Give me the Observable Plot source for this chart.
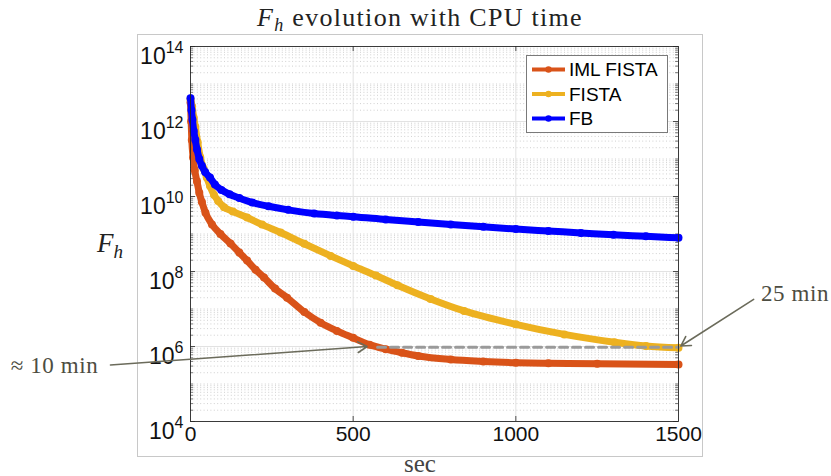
<!DOCTYPE html>
<html><head><meta charset="utf-8">
<script src="https://cdn.jsdelivr.net/npm/d3@7"></script>
<script src="https://cdn.jsdelivr.net/npm/@observablehq/plot@0.6"></script>
<style>body{margin:0;background:#fff}</style>
</head><body><div id="chart"></div>
<script>
const series = ["IML FISTA", "FISTA", "FB"];
const colors = ["#D95319", "#EDB120", "#0000FF"];

const imlT = [0,2,4,8,13,20,27,35,46,66,92,123,150,174,200,226,260,297,350,400,450,500,550,600,650,700,800,900,1000,1100,1250,1500];
const imlF = [3.2e12,1.0e12,3.2e11,1.1e11,5.0e10,2.5e10,1.26e10,7.1e9,3.7e9,1.8e9,1.0e9,5.6e8,3.2e8,1.95e8,1.12e8,6.9e7,3.5e7,2.0e7,8.3e6,4.3e6,2.6e6,1.7e6,1.12e6,8.5e5,6.8e5,5.6e5,4.5e5,4.0e5,3.7e5,3.55e5,3.47e5,3.3e5];

const fistaT = [0,5,10,15,22,30,40,50,60,72,85,103,130,174,220,277,350,431,500,570,636,738,841,1000,1149,1303,1400,1500];
const fistaF = [4.0e12,2.5e12,1.26e12,7.1e11,2.8e11,1.12e11,5.6e10,3.2e10,1.9e10,1.12e10,7.6e9,5.2e9,4.0e9,2.75e9,1.78e9,1.1e9,5.5e8,2.6e8,1.41e8,7.8e7,4.3e7,1.86e7,8.9e6,3.9e6,2.1e6,1.3e6,1.03e6,9.2e5];

const fbT = [0,3,6,10,15,20,27,35,45,60,75,95,120,150,190,240,300,380,450,500,600,700,800,900,1000,1100,1200,1300,1400,1500];
const fbF = [4.2e12,2.0e12,1.12e12,5.6e11,3.2e11,1.8e11,1.0e11,6.6e10,4.5e10,3.2e10,2.1e10,1.5e10,1.15e10,9.1e9,6.9e9,5.5e9,4.4e9,3.5e9,3.1e9,2.9e9,2.45e9,2.1e9,1.8e9,1.55e9,1.35e9,1.2e9,1.07e9,9.5e8,8.7e8,7.9e8];

const dashT = [575, 1500];
const dashF = [9.5e5, 9.5e5];

const yTicks = [1e4, 1e6, 1e8, 1e10, 1e12, 1e14];
const xTicks = [0, 500, 1000, 1500];

const annText = ["≈ 10 min", "25 min"];
const annTextX = [-418, 1858];
const annTextF = [3.1e5, 2.6e7];
const arrowX1 = [-246, 1731];
const arrowF1 = [3.2e5, 1.8e7];
const arrowX2 = [543, 1507];
const arrowF2 = [1.0e6, 1.03e6];

// minor log tick positions
const minorY = [];
for (let k = 4; k < 14; k++) for (let m = 1; m <= 9; m++) {
  const v = m * Math.pow(10, k);
  if (!yTicks.includes(v)) minorY.push(v);
}

const seriesData = [[imlT, imlF], [fistaT, fistaF], [fbT, fbF]].map(([T, F], i) =>
  T.map((t, j) => ({s: series[i], t, f: F[j]})));
const dashData = dashT.map((t, i) => ({t, f: dashF[i]}));
const annData = annText.map((txt, i) => ({txt, x: annTextX[i], f: annTextF[i]}));
const arrowData = arrowX1.map((x1, i) => ({x1, y1: arrowF1[i], x2: arrowX2[i], y2: arrowF2[i]}));

const FW = 488, FH = 375;
const axisColor = "#262626";

const plot = Plot.plot({
  width: 831, height: 476,
  marginLeft: 190, marginRight: 153, marginTop: 46, marginBottom: 55,
  style: {fontFamily: "Liberation Sans, Arial, sans-serif", color: axisColor, background: "white"},
  x: {domain: [0, 1500]},
  y: {type: "log", domain: [1e4, 1e14]},
  marks: [
    Plot.ruleY(minorY, {stroke: "#c4c4c4", strokeWidth: 0.8, strokeDasharray: "1,2.4"}),
    Plot.ruleY(yTicks.slice(1, -1), {stroke: "#e2e2e2", strokeWidth: 1}),
    Plot.ruleX([500, 1000], {stroke: "#e2e2e2", strokeWidth: 1}),
    // ticks inward
    Plot.tickY(yTicks, {stroke: axisColor, insetRight: FW - 5, strokeWidth: 0.8}),
    Plot.tickY(yTicks, {stroke: axisColor, insetLeft: FW - 5, strokeWidth: 0.8}),
    Plot.tickY(minorY, {stroke: axisColor, insetRight: FW - 3, strokeWidth: 0.6}),
    Plot.tickY(minorY, {stroke: axisColor, insetLeft: FW - 3, strokeWidth: 0.6}),
    Plot.tickX([500, 1000], {stroke: axisColor, insetTop: FH - 5, strokeWidth: 0.8}),
    Plot.tickX([500, 1000], {stroke: axisColor, insetBottom: FH - 5, strokeWidth: 0.8}),
    Plot.axisY(yTicks, {tickSize: 0, tickPadding: 7, label: null, fontSize: 23, fill: "#111",
      tickFormat: d => String(Math.round(Math.log10(d)))}),
    Plot.axisX(xTicks, {tickSize: 0, tickPadding: 5, label: null, fontSize: 21, fill: "#111",
      tickFormat: d => String(d)}),
    ...seriesData.flatMap((rows, i) => [
      Plot.line(rows, {x: "t", y: "f", stroke: colors[i], strokeWidth: 7, curve: "monotone-x", strokeLinejoin: "round", strokeLinecap: "round"}),
      Plot.dot(rows, {x: "t", y: "f", fill: colors[i], r: 4, stroke: "none"})
    ]),
    Plot.line(dashData, {x: "t", y: "f", stroke: "#9a9a9a", strokeWidth: 3, strokeDasharray: "8,5"}),
    Plot.frame({stroke: axisColor, strokeWidth: 0.9}),
    Plot.arrow(arrowData, {x1: "x1", y1: "y1", x2: "x2", y2: "y2", stroke: "#6b6b5b", strokeWidth: 1.6, headLength: 10}),
    Plot.text(annData, {x: "x", y: "f", text: "txt", fontFamily: "Liberation Serif, serif", fontSize: 23, fill: "#4d4d42"})
  ]
});

document.getElementById("chart").appendChild(plot);
const svg = d3.select(plot);

// superscript exponents on y tick labels
svg.selectAll('g[aria-label="y-axis tick label"] text').each(function () {
  const e = this.textContent;
  const t = d3.select(this);
  t.text(null).attr("dy", "0.42em");
  t.append("tspan").text("10");
  t.append("tspan").attr("dy", "-10.5").attr("font-size", "16px").text(e);
});
svg.selectAll('g[aria-label="text"] text').attr("letter-spacing", 0.6);

// outer light frame
svg.insert("rect", ":first-child")
  .attr("x", 137.5).attr("y", 34.5).attr("width", 565).attr("height", 422)
  .attr("fill", "none").attr("stroke", "#c8c8c8").attr("stroke-width", 1);

// title
const title = svg.append("text").attr("x", 420).attr("y", 26).attr("text-anchor", "middle")
  .attr("font-family", "Liberation Serif, serif").attr("font-size", 26).attr("letter-spacing", 1.3)
  .attr("fill", "#222");
title.append("tspan").attr("font-style", "italic").text("F");
title.append("tspan").attr("font-style", "italic").attr("font-size", 18).attr("dy", 5).text("h");
title.append("tspan").attr("dy", -5).text(" evolution with CPU time");

// y label
const yl = svg.append("text").attr("x", 97).attr("y", 252).attr("text-anchor", "start")
  .attr("font-family", "Liberation Serif, serif").attr("font-size", 27).attr("fill", "#222");
yl.append("tspan").attr("font-style", "italic").text("F");
yl.append("tspan").attr("font-style", "italic").attr("font-size", 19).attr("dy", 6).text("h");

// x label
svg.append("text").attr("x", 420).attr("y", 472).attr("text-anchor", "middle")
  .attr("font-family", "Liberation Serif, serif").attr("font-size", 25).attr("fill", "#444")
  .text("sec");

// legend
const lg = svg.append("g");
lg.append("rect").attr("x", 526.5).attr("y", 55.5).attr("width", 141).attr("height", 77)
  .attr("fill", "white").attr("stroke", "#7a7a7a").attr("stroke-width", 1);
series.forEach((s, i) => {
  const cy = 69.5 + i * 24.5;
  lg.append("line").attr("x1", 532).attr("x2", 565).attr("y1", cy).attr("y2", cy)
    .attr("stroke", colors[i]).attr("stroke-width", 4);
  lg.append("circle").attr("cx", 548.5).attr("cy", cy).attr("r", 3.2).attr("fill", colors[i]);
  lg.append("text").attr("x", 569).attr("y", cy).attr("dy", "0.36em").attr("text-anchor", "start")
    .attr("font-family", "Liberation Sans, Arial, sans-serif").attr("font-size", 19).attr("fill", "#000")
    .text(s);
});
</script>
</body></html>
